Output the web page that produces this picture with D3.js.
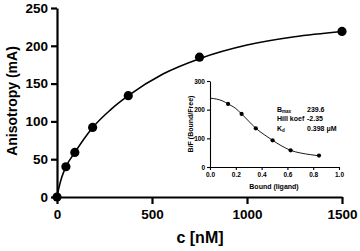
<!DOCTYPE html>
<html>
<head>
<meta charset="utf-8">
<script src="https://cdn.jsdelivr.net/npm/d3@7"></script>
<style>
  html, body { margin: 0; padding: 0; background: #fff; }
  svg { display: block; font-family: 'Liberation Sans', Arial, sans-serif; font-weight: bold; }
</style>
</head>
<body>
<svg id="vis" width="360" height="251"></svg>
<script>
// main binding curve
const conc = [0, 46.9, 93.75, 187.5, 375, 750, 1500];
const aniso = [0, 40, 59, 92, 134, 185, 219];
const fitConc = [0, 10, 25, 47, 94, 188, 280, 375, 560, 750, 1000, 1250, 1500];
const fitAniso = [0, 12, 26, 40, 59, 92, 115, 134, 163, 183, 201, 212, 219];
const xTicks = [0, 500, 1000, 1500];
const yTicks = [0, 50, 100, 150, 200, 250];

// inset
const bound = [0.14, 0.245, 0.355, 0.485, 0.625, 0.845];
const bf = [220, 185, 135, 93, 58, 40];
const fitBound = [0, 0.05, 0.1, 0.14, 0.2, 0.245, 0.3, 0.355, 0.42, 0.485, 0.55, 0.625, 0.7, 0.78, 0.845];
const fitBf = [240, 237, 230, 220, 204, 185, 160, 135, 113, 93, 75, 58, 49, 43, 39];
const insetXTicks = [0, 0.2, 0.4, 0.6, 0.8, 1.0];
const insetYTicks = [0, 100, 200, 300];
const params = [
  {name: 'B', sub: 'max', value: '239.6'},
  {name: 'Hill koef', sub: '', value: '-2.35'},
  {name: 'K', sub: 'd', value: '0.398 \u03bcM'}
];

const svg = d3.select('#vis');

const x = d3.scaleLinear().domain([0, 1500]).range([57, 342]);
const y = d3.scaleLinear().domain([0, 250]).range([197, 8]);

const gx = svg.append('g').attr('transform', `translate(0,${y(0)})`)
  .call(d3.axisBottom(x).tickValues(xTicks).tickFormat(d3.format('d')).tickSize(7).tickPadding(5).tickSizeOuter(0));
const gy = svg.append('g').attr('transform', `translate(${x(0)},0)`)
  .call(d3.axisLeft(y).tickValues(yTicks).tickSize(6).tickPadding(3).tickSizeOuter(0));
[gx, gy].forEach(g => {
  g.select('.domain').attr('stroke', '#000').attr('stroke-width', 2.2);
  g.selectAll('.tick line').attr('stroke', '#000').attr('stroke-width', 2.2);
  g.selectAll('.tick text').attr('fill', '#000').style('font-size', '13.5px').style('font-weight', 'bold').style('font-family', 'Liberation Sans, Arial, sans-serif');
});

svg.append('text').attr('x', 200).attr('y', 243).attr('text-anchor', 'middle')
  .style('font-size', '16px').text('c [nM]');
svg.append('text').attr('transform', 'translate(17,101) rotate(-90)').attr('text-anchor', 'middle')
  .style('font-size', '14px').text('Anisotropy (mA)');

const line = d3.line().x(d => x(d[0])).y(d => y(d[1])).curve(d3.curveMonotoneX);
svg.append('path').datum(fitConc.map((c, i) => [c, fitAniso[i]]))
  .attr('d', line).attr('fill', 'none').attr('stroke', '#000').attr('stroke-width', 1.6);

svg.append('g').selectAll('circle').data(conc.map((c, i) => [c, aniso[i]])).join('circle')
  .attr('cx', d => x(d[0])).attr('cy', d => y(d[1])).attr('r', 4.6).attr('fill', '#000');

// inset chart
const ix = d3.scaleLinear().domain([0, 1]).range([210, 339]);
const iy = d3.scaleLinear().domain([0, 300]).range([167, 81]);

const igx = svg.append('g').attr('transform', `translate(0,${iy(0)})`)
  .call(d3.axisBottom(ix).tickValues(insetXTicks).tickFormat(d3.format('.1f')).tickSize(3).tickPadding(2).tickSizeOuter(0));
const igy = svg.append('g').attr('transform', `translate(${ix(0)},0)`)
  .call(d3.axisLeft(iy).tickValues(insetYTicks).tickSize(3).tickPadding(2).tickSizeOuter(0));
[igx, igy].forEach(g => {
  g.select('.domain').attr('stroke', '#000').attr('stroke-width', 1.1);
  g.selectAll('.tick line').attr('stroke', '#000').attr('stroke-width', 1.1);
  g.selectAll('.tick text').attr('fill', '#000').style('font-size', '6.5px').style('font-weight', 'bold').style('font-family', 'Liberation Sans, Arial, sans-serif');
});

svg.append('text').attr('x', 274).attr('y', 189).attr('text-anchor', 'middle')
  .style('font-size', '7px').text('Bound (ligand)');
svg.append('text').attr('transform', 'translate(193,124) rotate(-90)').attr('text-anchor', 'middle')
  .style('font-size', '7px').text('B/F (Bound/Free)');

const iline = d3.line().x(d => ix(d[0])).y(d => iy(d[1])).curve(d3.curveMonotoneX);
svg.append('path').datum(fitBound.map((b, i) => [b, fitBf[i]]))
  .attr('d', iline).attr('fill', 'none').attr('stroke', '#000').attr('stroke-width', 0.9);

svg.append('g').selectAll('circle').data(bound.map((b, i) => [b, bf[i]])).join('circle')
  .attr('cx', d => ix(d[0])).attr('cy', d => iy(d[1])).attr('r', 2.1).attr('fill', '#000');

const rows = svg.append('g').selectAll('g').data(params).join('g')
  .attr('transform', (d, i) => `translate(277,${111.5 + i * 9.5})`);
const nameText = rows.append('text').style('font-size', '7px');
nameText.append('tspan').text(d => d.name);
nameText.append('tspan').attr('dy', 1.5).style('font-size', '4.5px').text(d => d.sub);
rows.append('text').attr('x', 30).style('font-size', '7px').text(d => d.value);
</script>
</body>
</html>
